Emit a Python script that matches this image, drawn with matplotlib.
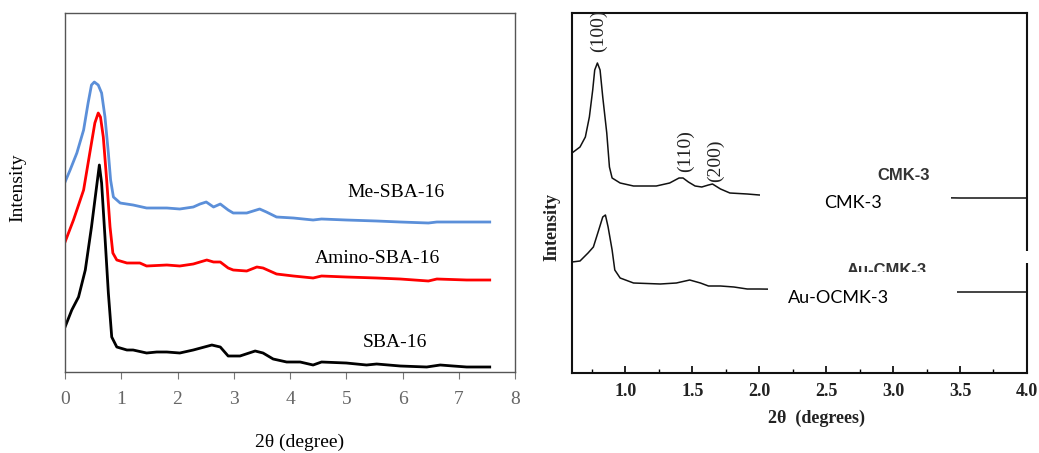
import matplotlib
matplotlib.use("Agg")
import matplotlib.pyplot as plt
from matplotlib.patches import Rectangle
from matplotlib.ticker import MultipleLocator

# ---- left panel: SBA-16 family (small-angle XRD) ----
sba_x = [0, 0.12, 0.24, 0.36, 0.47, 0.56, 0.61, 0.65, 0.71, 0.77, 0.83, 0.92, 1.10, 1.21,
         1.45, 1.63, 1.81, 2.04, 2.28, 2.61, 2.76, 2.90, 3.11, 3.38, 3.52, 3.70, 3.94, 4.18,
         4.41, 4.56, 5.0, 5.36, 5.54, 5.96, 6.43, 6.67, 6.90, 7.14, 7.55]
sba_y = [45, 62, 75, 102, 145, 185, 207, 189, 135, 79, 35, 25, 22, 22,
         19, 20, 20, 19, 22, 27, 25, 16, 16, 21, 19, 13, 10, 10,
         7, 10, 9, 7, 8, 6, 5, 7, 6, 5, 5]

amino_x = [0, 0.15, 0.33, 0.44, 0.53, 0.59, 0.63, 0.68, 0.74, 0.80, 0.85, 0.92, 1.10, 1.33,
           1.45, 1.81, 2.04, 2.28, 2.52, 2.64, 2.76, 2.90, 2.99, 3.23, 3.41, 3.52, 3.76, 4.06,
           4.41, 4.56, 5.0, 5.54, 5.96, 6.46, 6.61, 7.14, 7.55]
amino_y = [130, 152, 182, 219, 249, 259, 255, 235, 192, 145, 119, 112, 109, 109,
           106, 107, 106, 108, 112, 110, 110, 104, 102, 101, 105, 104, 98, 96,
           94, 96, 95, 94, 93, 91, 93, 92, 92]

me_x = [0, 0.09, 0.21, 0.33, 0.41, 0.47, 0.52, 0.59, 0.65, 0.71, 0.77, 0.81, 0.86, 0.98,
        1.21, 1.45, 1.81, 2.04, 2.28, 2.40, 2.51, 2.64, 2.76, 2.90, 2.99, 3.23, 3.46, 3.58,
        3.76, 4.06, 4.41, 4.56, 5.0, 5.54, 5.96, 6.46, 6.61, 7.14, 7.55]
me_y = [190, 202, 219, 242, 269, 287, 290, 287, 279, 255, 219, 192, 175, 169,
        167, 164, 164, 163, 165, 168, 170, 165, 168, 162, 159, 159, 163, 160,
        155, 154, 152, 153, 152, 151, 150, 149, 150, 150, 150]

left_labels = ["Me-SBA-16", "Amino-SBA-16", "SBA-16"]

# ---- right panel: CMK-3 family ----
cmk_x = [0.6, 0.66, 0.70, 0.73, 0.755, 0.77, 0.79, 0.81, 0.83, 0.86, 0.88, 0.90, 0.96,
         1.06, 1.23, 1.33, 1.40, 1.43, 1.47, 1.52, 1.57, 1.62, 1.65, 1.71, 1.78, 1.91,
         2.0, 2.5, 3.0, 3.5, 4.0]
cmk_y = [220, 226, 236, 256, 283, 303, 310, 303, 276, 240, 206, 195, 190,
         187, 187, 190, 195, 195, 191, 187, 186, 188, 189, 184, 180, 179,
         178, 177, 176, 175, 175]

au_x = [0.6, 0.66, 0.72, 0.76, 0.80, 0.83, 0.85, 0.87, 0.90, 0.92, 0.96, 1.06, 1.26,
        1.38, 1.48, 1.56, 1.62, 1.71, 1.81, 1.91, 2.0, 2.5, 3.0, 3.46, 4.0]
au_y = [111, 112, 120, 126, 143, 156, 158, 146, 123, 103, 95, 90, 89,
        90, 93, 90, 87, 87, 86, 84, 84, 83, 82, 81, 81]

peak_labels = ["(100)", "(110)", "(200)"]
peak_x = [0.80, 1.445, 1.67]
peak_y = [342, 222, 212]

fig = plt.figure(figsize=(10.39, 4.53), dpi=100)

# left panel
ax1 = fig.add_axes([0.0626, 0.1788, 0.4331, 0.7925])
ax1.plot(sba_x, sba_y, color="black", lw=2.0)
ax1.plot(amino_x, amino_y, color="#ff0000", lw=2.0)
ax1.plot(me_x, me_y, color="#5b8fd9", lw=2.0)
ax1.set_xlim(0, 8)
ax1.set_ylim(0, 359)
ax1.set_yticks([])
ax1.set_xticks(range(9))
ax1.tick_params(axis="x", direction="out", length=5, color="#777777",
                labelsize=14, labelcolor="#666666", pad=9)
for lab in ax1.get_xticklabels():
    lab.set_family("Liberation Serif")
for sp in ax1.spines.values():
    sp.set_color("#555555")
    sp.set_linewidth(1.0)
serif = dict(family="Liberation Serif", fontsize=14)
ax1.text(5.88, 180, left_labels[0], ha="center", va="center", **serif)
ax1.text(5.55, 114, left_labels[1], ha="center", va="center", **serif)
ax1.text(5.87, 30, left_labels[2], ha="center", va="center", **serif)
fig.text(300 / 1039, 1 - 442 / 453, "2θ (degree)", ha="center", va="center", **serif)
fig.text(18 / 1039, 1 - 188 / 453, "Intensity", ha="center", va="center",
         rotation=90, **serif)

# right panel
ax2 = fig.add_axes([0.5505, 0.1766, 0.4379, 0.7947])
ax2.plot(cmk_x, cmk_y, color="#111111", lw=1.1)
ax2.plot(au_x, au_y, color="#111111", lw=1.1)
ax2.set_xlim(0.6, 4.0)
ax2.set_ylim(0, 360)
ax2.set_yticks([])
ax2.xaxis.set_minor_locator(MultipleLocator(0.25))
ax2.set_xticks([1.0, 1.5, 2.0, 2.5, 3.0, 3.5, 4.0])
ax2.tick_params(axis="x", which="major", direction="in", length=5, width=1.2,
                labelsize=13, pad=7)
ax2.tick_params(axis="x", which="minor", direction="in", length=3, width=1.0)
for lab in ax2.get_xticklabels():
    lab.set_family("Liberation Serif")
    lab.set_fontweight("bold")
    lab.set_color("#222222")
for sp in ax2.spines.values():
    sp.set_color("#111111")
    sp.set_linewidth(1.5)

for lab, px, py in zip(peak_labels, peak_x, peak_y):
    ax2.text(px, py, lab, rotation=90, ha="center", va="center",
             family="Liberation Serif", fontsize=14, color="#222222")

# original labels, partly hidden by the pasted white boxes
ax2.text(3.075, 193, "CMK-3", ha="center", va="baseline", fontsize=12,
         fontweight="bold", family="Liberation Sans", color="#333333")
ax2.text(2.95, 98, "Au-CMK-3", ha="center", va="baseline", fontsize=12,
         fontweight="bold", family="Liberation Sans", color="#333333")
ax2.add_patch(Rectangle((2.006, 140), 1.424, 51, facecolor="white",
                        edgecolor="none", zorder=5))
ax2.add_patch(Rectangle((2.066, 50), 1.414, 51, facecolor="white",
                        edgecolor="none", zorder=5))
ax2.add_patch(Rectangle((3.98, 110), 0.05, 12, facecolor="white",
                        edgecolor="none", zorder=6, clip_on=False))
ax2.text(2.70, 170, "CMK-3", ha="center", va="center", fontsize=13,
         family="Lato", zorder=7)
ax2.text(2.59, 75, "Au-OCMK-3", ha="center", va="center", fontsize=13,
         family="Lato", zorder=7)

fig.text(817 / 1039, 1 - 418 / 453, "2θ  (degrees)", ha="center", va="center",
         family="Liberation Serif", fontsize=13, fontweight="bold", color="#222222")
fig.text(552 / 1039, 1 - 227 / 453, "Intensity", ha="center", va="center",
         rotation=90, family="Liberation Serif", fontsize=13, fontweight="bold",
         color="#222222")

fig.savefig("out.png", dpi=100)
